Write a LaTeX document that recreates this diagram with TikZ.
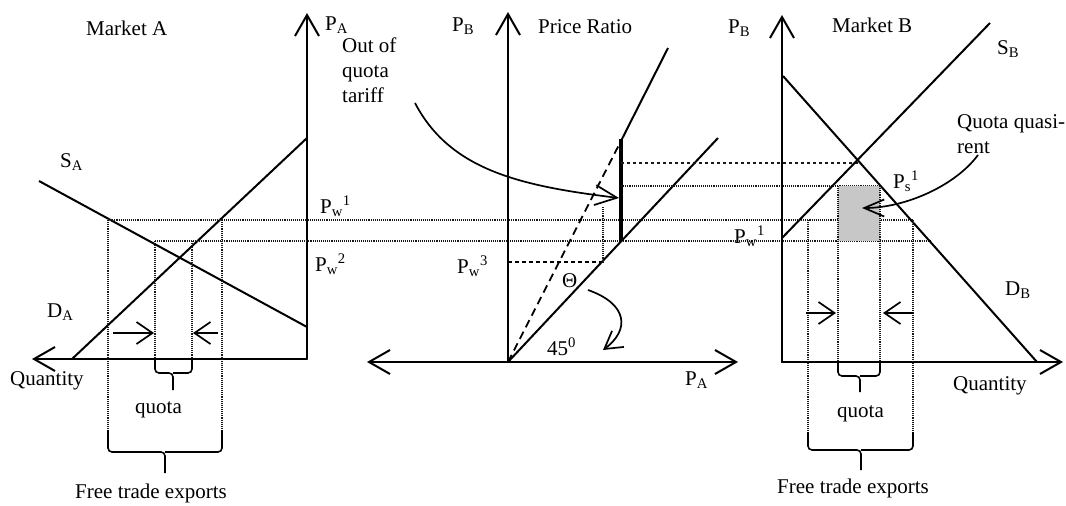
\documentclass[tikz,border=0pt]{standalone}
\usepackage{fontspec}
\setmainfont{Liberation Serif}
\usetikzlibrary{arrows.meta}
\tikzset{
  AxTip/.tip={Straight Barb[length=21pt,width=24pt]},
  SmTip/.tip={Straight Barb[length=16pt,width=22pt]},
  ax/.style={line width=2pt, line cap=round},
  mainline/.style={line width=2pt},
  curvy/.style={line width=1.7pt},
  thickseg/.style={line width=3.8pt},
  dotl/.style={line width=1.1pt, densely dotted, black!90},
  sparsedash/.style={line width=1.1pt, dash pattern=on 3pt off 3pt, black!90},
  shortdash/.style={line width=1.2pt, dash pattern=on 4pt off 3pt},
  longdash/.style={line width=1.8pt, dash pattern=on 8pt off 5pt},
  bracel/.style={line width=1.6pt, rounded corners=4pt},
  lbl/.style={font=\fontsize{21}{25}\selectfont, inner sep=0pt, anchor=base west},
}
\begin{document}
\begin{tikzpicture}[x=1pt,y=-1pt]
\useasboundingbox (0,0) rectangle (1066,506);

% ---------------- Market A ----------------
\coordinate (LO) at (307,359);
\coordinate (LAtop) at (307,13);
\coordinate (LAleft) at (32,359);
\draw[ax,-AxTip] (LO) -- (LAtop);
\draw[ax,-AxTip] (LO) -- (LAleft);
\coordinate (SA1) at (39,181);  \coordinate (SA2) at (307,327);
\coordinate (DA1) at (72,359);  \coordinate (DA2) at (307,138);
\draw[mainline] (SA1) -- (SA2);
\draw[mainline] (DA1) -- (DA2);

% price lines across panels
\coordinate (W1L) at (108,220); \coordinate (W1R) at (913,220);
\coordinate (W2L) at (155,241); \coordinate (W2R) at (931,241);
\draw[dotl] (W1L) -- (W1R);
\draw[dotl] (W2L) -- (W2R);

% vertical dotted lines, left
\coordinate (LV1t) at (108,220); \coordinate (LV1b) at (108,430);
\coordinate (LV2t) at (155,241); \coordinate (LV2b) at (155,359);
\coordinate (LV3t) at (192,241); \coordinate (LV3b) at (192,359);
\coordinate (LV4t) at (222,220); \coordinate (LV4b) at (222,430);
\draw[dotl] (LV1t) -- (LV1b);
\draw[dotl] (LV2t) -- (LV2b);
\draw[dotl] (LV3t) -- (LV3b);
\draw[dotl] (LV4t) -- (LV4b);

% quota arrows left
\coordinate (LArA) at (113,333); \coordinate (LArAt) at (154,333);
\coordinate (LArB) at (218,333); \coordinate (LArBt) at (193,333);
\draw[curvy,-SmTip] (LArA) -- (LArAt);
\draw[curvy,-SmTip] (LArB) -- (LArBt);

% braces left
\draw[bracel] (155,359) -- (155,373) -- (173,373) -- (173,390);
\draw[bracel] (192,359) -- (192,373) -- (173,373);
\draw[bracel] (108,430) -- (108,452) -- (165,452) -- (165,473);
\draw[bracel] (222,430) -- (222,452) -- (165,452);

% labels left
\node[lbl] (mA) at (86,35) {Market A};
\node[lbl] (pA) at (325,30) {P\textsubscript{A}};
\node[lbl] (sA) at (60,167) {S\textsubscript{A}};
\node[lbl] (pw1) at (320,213) {P\textsubscript{w}\textsuperscript{1}};
\node[lbl] (pw2) at (315,271) {P\textsubscript{w}\textsuperscript{2}};
\node[lbl] (dA) at (47,317) {D\textsubscript{A}};
\node[lbl] (qL) at (10,385) {Quantity};
\node[lbl] (quotaL) at (135,413) {quota};
\node[lbl] (fteL) at (75,498) {Free trade exports};

% ---------------- Price ratio ----------------
\coordinate (MO) at (508,362);
\coordinate (MBtop) at (508,12);
\coordinate (MLeft) at (367,362);
\coordinate (MRight) at (738,362);
\draw[ax,-AxTip] (MO) -- (MBtop);
\draw[ax,AxTip-AxTip] (MLeft) -- (MRight);
\coordinate (L45) at (718,138);
\draw[mainline] (MO) -- (L45);
\coordinate (Dbrk) at (623,137);
\coordinate (Dtop) at (668,48);
\draw[longdash] (MO) -- (Dbrk);
\draw[mainline] (Dbrk) -- (Dtop);
\coordinate (Tt) at (621,139); \coordinate (Tb) at (621,241);
\draw[thickseg] (Tt) -- (Tb);
\coordinate (W3a) at (508,262); \coordinate (W3b) at (602,262);
\draw[shortdash] (W3a) -- (W3b);
\coordinate (VDt) at (603,207); \coordinate (VDb) at (603,262);
\draw[dotl] (VDt) -- (VDb);
% upper price lines to Market B
\coordinate (Uq1) at (621,163); \coordinate (Uq2) at (858,163);
\draw[sparsedash] (Uq1) -- (Uq2);
\coordinate (Ps1) at (621,186); \coordinate (Ps2) at (880,186);
\draw[dotl] (Ps1) -- (Ps2);

% out of quota tariff arrow
\coordinate (oqs) at (415,103);
\coordinate (oqe) at (619,198);
\draw[curvy,-{Straight Barb[length=22pt,width=20pt]}] (oqs) .. controls (450,170) and (520,186) .. (oqe);
% 45 deg arrow
\coordinate (a45s) at (588,290);
\coordinate (a45e) at (603,350);
\draw[curvy,-{Straight Barb[length=17pt,width=20pt]}] (a45s) .. controls (628,304) and (630,330) .. (a45e);

% labels middle
\node[lbl] (oq1) at (342,52) {Out of};
\node[lbl] (oq2) at (342,77) {quota};
\node[lbl] (oq3) at (342,102) {tariff};
\node[lbl] (pBm) at (452,31) {P\textsubscript{B}};
\node[lbl] (pr) at (538,33) {Price Ratio};
\node[lbl] (pw3) at (457,273) {P\textsubscript{w}\textsuperscript{3}};
\node[lbl] (th) at (562,287) {Θ};
\node[lbl] (d45) at (547,355) {45\textsuperscript{0}};
\node[lbl] (pAm) at (685,385) {P\textsubscript{A}};

% ---------------- Market B ----------------
\coordinate (RO) at (782,362);
\coordinate (RBtop) at (782,15);
\coordinate (RRight) at (1063,362);
\fill[black!22] (838,186) rectangle (880,241);
\draw[ax,-AxTip] (RO) -- (RBtop);
\draw[ax,-AxTip] (RO) -- (RRight);
\coordinate (DB1) at (783,76); \coordinate (DB2) at (1037,362);
\coordinate (SB1) at (782,238); \coordinate (SB2) at (990,23);
\draw[mainline] (DB1) -- (DB2);
\draw[mainline] (SB1) -- (SB2);

\coordinate (RV1t) at (808,220); \coordinate (RV1b) at (808,432);
\coordinate (RV2t) at (838,186); \coordinate (RV2b) at (838,362);
\coordinate (RV3t) at (880,186); \coordinate (RV3b) at (880,362);
\coordinate (RV4t) at (913,220); \coordinate (RV4b) at (913,432);
\draw[dotl] (RV1t) -- (RV1b);
\draw[dotl] (RV2t) -- (RV2b);
\draw[dotl] (RV3t) -- (RV3b);
\draw[dotl] (RV4t) -- (RV4b);

\coordinate (RArA) at (806,313); \coordinate (RArAt) at (836,313);
\coordinate (RArB) at (913,313); \coordinate (RArBt) at (883,313);
\draw[curvy,-SmTip] (RArA) -- (RArAt);
\draw[curvy,-SmTip] (RArB) -- (RArBt);

\draw[bracel] (838,362) -- (838,376) -- (860,376) -- (860,392);
\draw[bracel] (880,362) -- (880,376) -- (860,376);
\draw[bracel] (808,432) -- (808,450) -- (861,450) -- (861,470);
\draw[bracel] (913,432) -- (913,450) -- (861,450);

% quota quasi-rent arrow
\coordinate (qrs) at (978,155);
\coordinate (qre) at (862,208);
\draw[curvy,-{Straight Barb[length=20pt,width=17pt]}] (qrs) .. controls (955,186) and (905,208) .. (qre);

% labels right
\node[lbl] (pBr) at (728,33) {P\textsubscript{B}};
\node[lbl] (mB) at (832,32) {Market B};
\node[lbl] (sB) at (997,54) {S\textsubscript{B}};
\node[lbl] (qq1) at (957,128) {Quota quasi-};
\node[lbl] (qq2) at (957,153) {rent};
\node[lbl] (ps1) at (893,188) {P\textsubscript{s}\textsuperscript{1}};
\node[lbl] (pwr) at (734,243) {P\textsubscript{w}\textsuperscript{1}};
\node[lbl] (dB) at (1005,295) {D\textsubscript{B}};
\node[lbl] (qR) at (953,390) {Quantity};
\node[lbl] (quotaR) at (837,417) {quota};
\node[lbl] (fteR) at (777,493) {Free trade exports};
\end{tikzpicture}
\end{document}
